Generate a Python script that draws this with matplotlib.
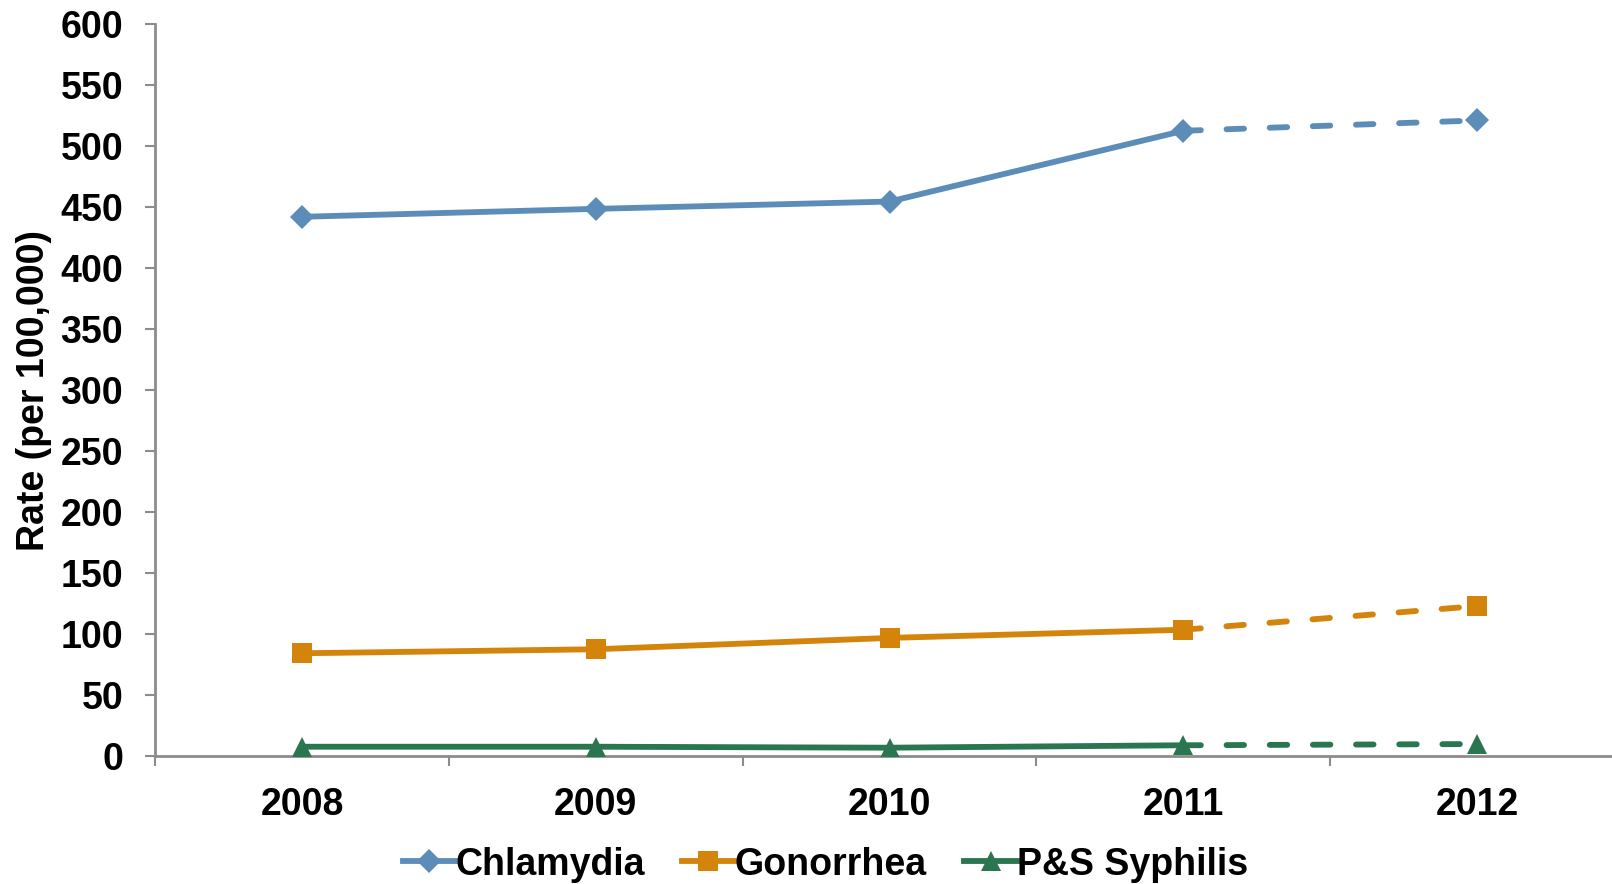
import matplotlib.pyplot as plt
from matplotlib.lines import Line2D

plt.rcParams['font.family'] = ['Liberation Sans', 'DejaVu Sans']
plt.rcParams['font.weight'] = 'bold'

# data
years = ['2008', '2009', '2010', '2011', '2012']
chlamydia = [442, 448.5, 454.5, 512.5, 521]
gonorrhea = [84.2, 87.5, 96.8, 103.5, 122.9]
syphilis = [7.6, 7.6, 6.8, 8.8, 9.8]

series = [
    ('Chlamydia', chlamydia, '#5B8DB8', 'D', 12),
    ('Gonorrhea', gonorrhea, '#D4840A', 's', 14),
    ('P&S Syphilis', syphilis, '#2A7650', '^', 15),
]

fig = plt.figure(figsize=(16.12, 8.84), dpi=100)
ax = fig.add_axes([0.0962, 0.1448, 0.9113, 0.828])

x = list(range(len(years)))
handles = []
for name, vals, color, marker, ms in series:
    # solid for 2008-2011, dashed for 2011-2012
    ax.plot(x[:4], vals[:4], color=color, lw=4.2, zorder=2)
    ax.plot(x[3:], vals[3:], color=color, lw=4.2, dashes=(3.0, 4.4),
            dash_capstyle='round', zorder=2)
    ax.plot(x, vals, linestyle='none', marker=marker, markersize=ms,
            color=color, markeredgewidth=0, zorder=3)
    handles.append(Line2D([0], [0], color=color, lw=4.2, marker=marker,
                          markersize=ms, markeredgewidth=0, label=name))

ax.set_xlim(-0.5, 4.5)
ax.set_ylim(0, 600)
ax.set_yticks(range(0, 601, 50))
ax.set_xticks(x)
ax.set_xticklabels(years)
ax.set_xticks([i + 0.5 for i in range(-1, 5)], minor=True)

for s in ['top', 'right']:
    ax.spines[s].set_visible(False)
for s in ['left', 'bottom']:
    ax.spines[s].set_color('#8C8C8C')
    ax.spines[s].set_linewidth(2)

ax.tick_params(axis='y', direction='out', length=7, width=1.5, color='#8C8C8C',
               labelsize=27, pad=16)
ax.tick_params(axis='x', which='major', length=0, labelsize=27, pad=22)
ax.tick_params(axis='x', which='minor', direction='out', length=7, width=1.5,
               color='#8C8C8C')
ax.set_ylabel('Rate (per 100,000)', fontsize=27, fontweight='bold', labelpad=6)

fig.legend(handles=handles, loc='center', bbox_to_anchor=(0.512, 0.022),
           ncol=3, frameon=False, fontsize=27, handlelength=1.4,
           handletextpad=0.0, columnspacing=1.0, borderaxespad=0)

fig.savefig('out.png', dpi=100)
